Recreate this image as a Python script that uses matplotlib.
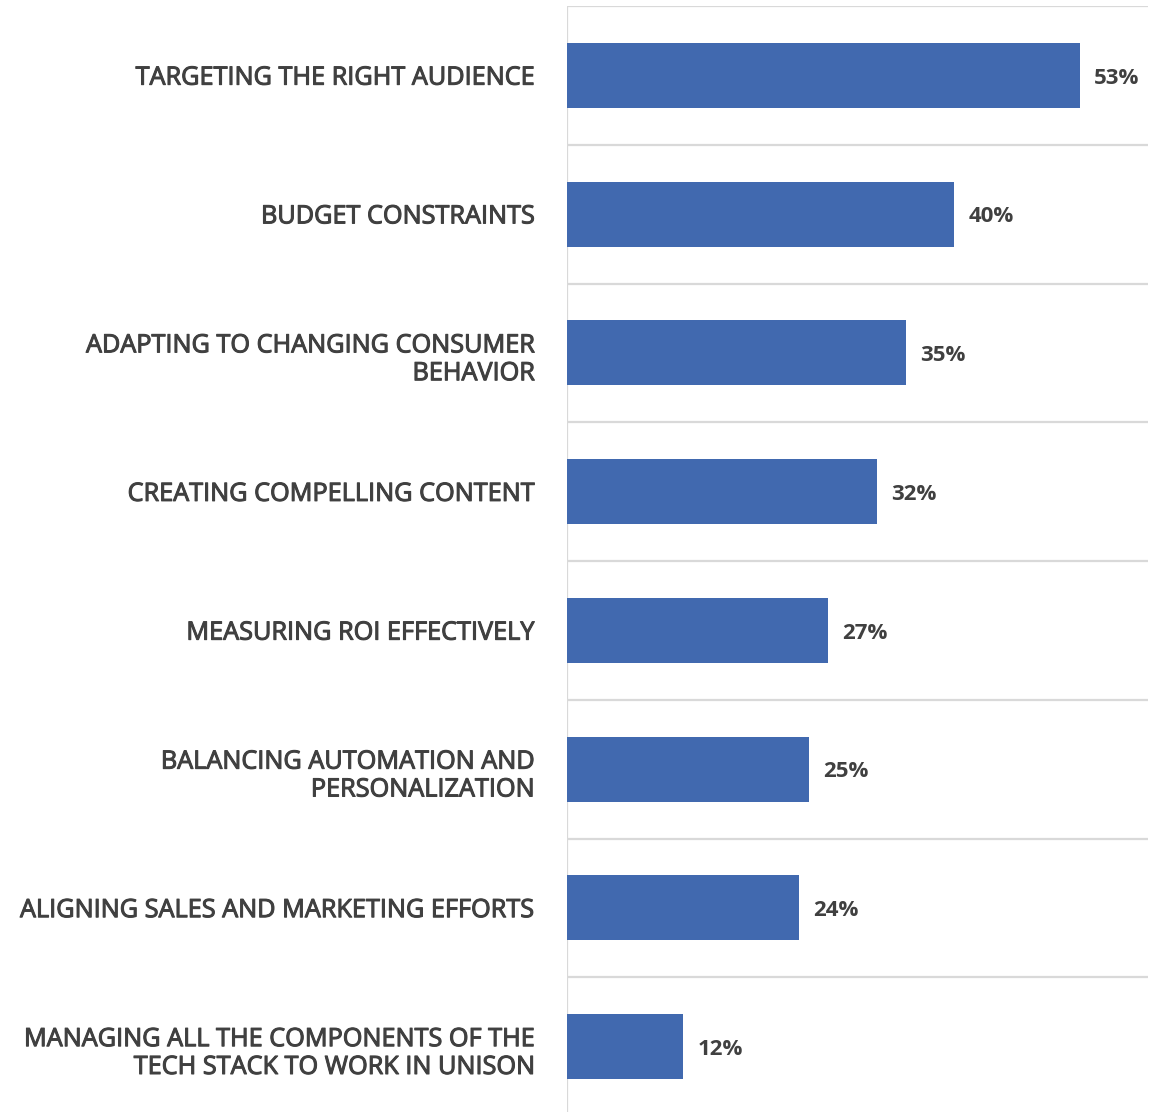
import matplotlib
matplotlib.use("Agg")
import matplotlib.pyplot as plt
import matplotlib.patheffects as pe
import numpy as np

categories = [
    "TARGETING THE RIGHT AUDIENCE",
    "BUDGET CONSTRAINTS",
    "ADAPTING TO CHANGING CONSUMER\nBEHAVIOR",
    "CREATING COMPELLING CONTENT",
    "MEASURING ROI EFFECTIVELY",
    "BALANCING AUTOMATION AND\nPERSONALIZATION",
    "ALIGNING SALES AND MARKETING EFFORTS",
    "MANAGING ALL THE COMPONENTS OF THE\nTECH STACK TO WORK IN UNISON",
]
values = [53, 40, 35, 32, 27, 25, 24, 12]

bar_color = "#4169AF"
text_color = "#404040"
grid_color = "#D9D9D9"

fig = plt.figure(figsize=(11.55, 11.12), dpi=100)
ax = fig.add_axes([567 / 1155, -4 / 1112, 581 / 1155, 1110 / 1112])

n = len(categories)
y = np.arange(n)
ax.barh(y, values, height=0.47, color=bar_color, zorder=3)
ax.set_xlim(0, 60)
ax.set_ylim(n - 0.5, -0.5)

# category separators
for b in np.arange(-0.5, n, 1.0):
    ax.axhline(b, color=grid_color, lw=1.6, zorder=1)
ax.axvline(0, color=grid_color, lw=1.6, zorder=2)

for s in ax.spines.values():
    s.set_visible(False)
ax.set_xticks([])
ax.set_yticks([])

heavy = [pe.Stroke(linewidth=0.75, foreground=text_color), pe.Normal()]

for yi, lab in zip(y, categories):
    dy = 0.05 if "\n" in lab else 0.02
    ax.text(-32 / 9.68, yi + dy, lab, ha="right", va="center",
            fontsize=18.2, linespacing=1.15, family="Open Sans",
            color=text_color, path_effects=heavy)

for yi, v in zip(y, values):
    ax.text(v + 1.45, yi + 0.02, f"{v}%", ha="left", va="center",
            fontsize=16, family="Open Sans", weight="bold", color=text_color)

fig.savefig("out.png", dpi=100)
